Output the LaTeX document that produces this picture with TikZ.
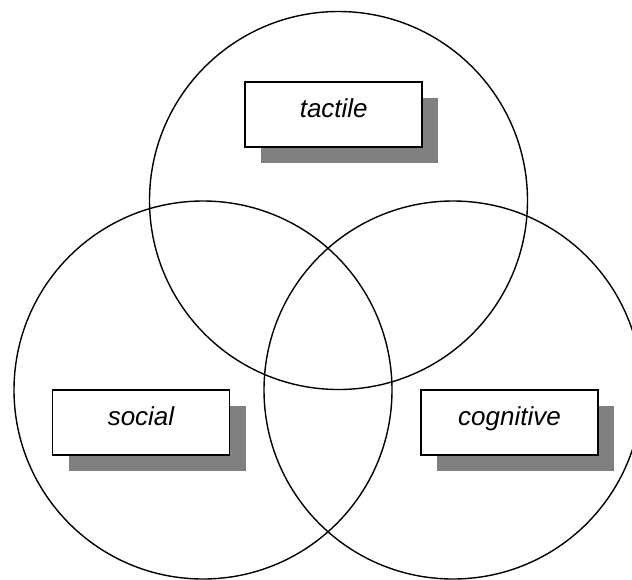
\documentclass[tikz,border=0pt]{standalone}
\usepackage{fontspec}
\setmainfont{Liberation Sans}
\usetikzlibrary{shadows}
\definecolor{shadowgray}{HTML}{808080}
\tikzset{
  x=1pt, y=-1pt,
  venn/.style={circle, draw=black, line width=1.4pt, minimum size=378pt, inner sep=0pt},
  labelbox/.style={rectangle, draw=black, line width=1.8pt, fill=white,
    minimum width=177pt, inner sep=0pt, text height=35pt, text depth=30pt,
    font=\fontsize{26}{30}\selectfont\itshape,
    general shadow={fill=shadowgray, shadow xshift=16pt, shadow yshift=-16pt}},
}
\begin{document}
\begin{tikzpicture}
  \useasboundingbox (0,0) rectangle (632,579);
  \clip (0,0) rectangle (632,579);
  % three overlapping sets
  \node[venn] (ctop)   at (338.5,200.5) {};
  \node[venn] (cleft)  at (203,390) {};
  \node[venn] (cright) at (453,390) {};
  % labels with drop shadows
  \node[labelbox] (tactile)   at (333.75,114.75) {tactile};
  \node[labelbox] (social)    at (141,422.5) {social};
  \node[labelbox] (cognitive) at (509.5,422.5) {cognitive};
\end{tikzpicture}
\end{document}
